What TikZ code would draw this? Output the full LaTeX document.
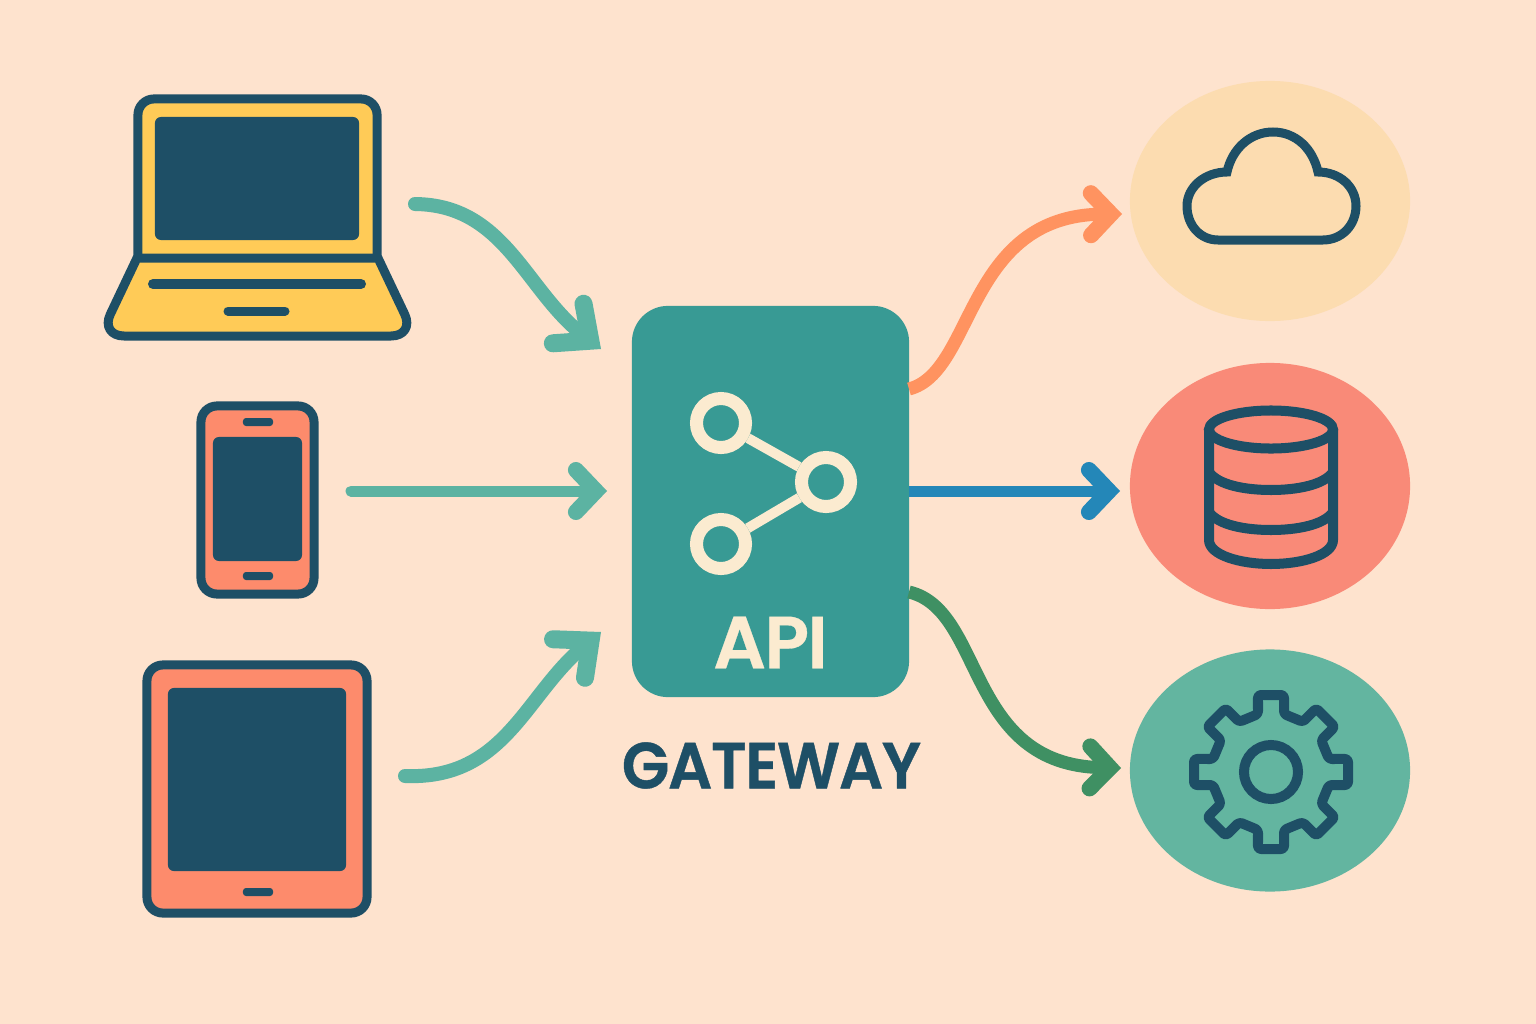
\documentclass[tikz,border=0pt]{standalone}
\usepackage{fontspec}
\setmainfont{Poppins}
\newfontfamily\apifont[LetterSpace=-2.5,FakeBold=0.4]{Poppins SemiBold}
\newfontfamily\gatefont[FakeStretch=0.95,LetterSpace=-2,FakeBold=0.6]{Poppins SemiBold}
\usetikzlibrary{arrows.meta,shapes.geometric}

\definecolor{peach}{HTML}{FEE3CE}
\definecolor{navy}{HTML}{1E4F66}
\definecolor{teal}{HTML}{389A94}
\definecolor{cream}{HTML}{FBEBD0}
\definecolor{sun}{HTML}{FFCB57}
\definecolor{coral}{HTML}{FD8B6C}
\definecolor{sand}{HTML}{FCDCB0}
\definecolor{rose}{HTML}{F98A78}
\definecolor{mint}{HTML}{63B5A0}
\definecolor{flowin}{HTML}{5CB3A2}
\definecolor{floworange}{HTML}{FF9360}
\definecolor{flowblue}{HTML}{2487B8}
\definecolor{flowgreen}{HTML}{3F9063}

\tikzset{
  barb/.tip={Straight Barb[line cap=round,line join=miter,line width=0.16cm,length=0.2cm,width=0.42cm]},
  bigbarb/.tip={Straight Barb[line cap=round,line join=miter,line width=0.18cm,length=0.28cm,width=0.5cm]}
}

\begin{document}
\begin{tikzpicture}[
x=0.01cm,y=-0.01cm,
device/.style={
  draw=navy,
  line width=0.09cm,
  rectangle,
  rounded corners=0.16cm,
  inner sep=0pt
},
screen/.style={
  fill=navy,
  rectangle,
  rounded corners=0.06cm,
  inner sep=0pt
},
target/.style={
  ellipse,
  inner sep=0pt,
  minimum width=2.8cm
},
icon/.style={
  draw=navy,
  line width=0.1cm,
  line join=round,
  line cap=round
},
flow/.style={
  line width=0.13cm,
  line join=round,
  -barb
},
share/.style={
  draw=cream,
  line width=0.13cm
}
]
\useasboundingbox (0,0) rectangle (1536,1024);
\fill[peach] (0,0) rectangle (1536,1024);

\node[device,fill=sun,minimum width=2.39cm,minimum height=1.81cm] (lid) at (257.5,189.5) {};
\node[screen,minimum width=2.04cm,minimum height=1.23cm] (lidscreen) at (257,178.5) {};
\draw[icon,line width=0.09cm,fill=sun] (137,258) -- (378,258) [rounded corners=0.24cm] -- (415,336) -- (100,336) [sharp corners] -- cycle;
\draw[icon] (153,284) -- (361,284);
\draw[icon,line width=0.09cm] (228,311) -- (285,311);

\node[device,fill=coral,minimum width=1.13cm,minimum height=1.88cm] (phone) at (257.5,500) {};
\node[screen,minimum width=0.89cm,minimum height=1.24cm] (phonescreen) at (257.5,499) {};
\node[screen,rounded corners=0.03cm,minimum width=0.3cm,minimum height=0.08cm] (speaker) at (258,422) {};
\node[screen,rounded corners=0.03cm,minimum width=0.3cm,minimum height=0.08cm] (homebar) at (258,576) {};

\node[device,fill=coral,minimum width=2.2cm,minimum height=2.48cm] (tablet) at (257,789) {};
\node[screen,minimum width=1.78cm,minimum height=1.83cm] (tabletscreen) at (257,779.5) {};
\node[screen,rounded corners=0.03cm,minimum width=0.3cm,minimum height=0.08cm] (tabletbar) at (258,892) {};

\node[fill=teal,rectangle,rounded corners=0.36cm,inner sep=0pt,minimum width=2.77cm,minimum height=3.91cm] (gateway) at (770.5,501.5) {};
\node[circle,share,inner sep=0pt,minimum size=0.49cm] (hubtop) at (721,423) {};
\node[circle,share,inner sep=0pt,minimum size=0.49cm] (hubright) at (826,482) {};
\node[circle,share,inner sep=0pt,minimum size=0.49cm] (hubbottom) at (721,544) {};
\draw[share,line width=0.1cm] (hubtop) -- (hubright);
\draw[share,line width=0.1cm] (hubbottom) -- (hubright);
\node[text=cream,font=\apifont\fontsize{21}{21}\selectfont] (api) at (770.5,642.5) {API};
\node[text=navy,font=\gatefont\fontsize{18.5}{18.5}\selectfont] (gwlabel) at (771.5,765.5) {GATEWAY};

\node[target,fill=sand,minimum height=2.4cm] (cloud) at (1270,201) {};
\node[target,fill=rose,minimum height=2.46cm] (store) at (1270,486) {};
\node[target,fill=mint,minimum height=2.42cm] (gear) at (1270,770.5) {};

\draw[icon,line width=0.09cm,line join=miter] (1218,240) .. controls (1200,240) and (1187,225) .. (1187,206)
  .. controls (1187,187) and (1205,172) .. (1227,172)
  .. controls (1232,149) and (1250,132) .. (1273,132)
  .. controls (1296,132) and (1313,149) .. (1318,172)
  .. controls (1340,172) and (1356,187) .. (1356,206)
  .. controls (1356,225) and (1342,240) .. (1323,240) -- cycle;

\draw[icon] (1209,430) -- (1209,540) .. controls (1209,555) and (1240,564) .. (1271,564)
  .. controls (1302,564) and (1333,555) .. (1333,540) -- (1333,430);
\node[draw=navy,line width=0.1cm,ellipse,inner sep=0pt,minimum width=1.24cm,minimum height=0.38cm] (storetop) at (1271,429.5) {};
\draw[icon] (1209,472) .. controls (1218,485) and (1245,490) .. (1271,490) .. controls (1297,490) and (1324,485) .. (1333,472);
\draw[icon] (1209,512) .. controls (1218,525) and (1245,530) .. (1271,530) .. controls (1297,530) and (1324,525) .. (1333,512);

\begin{scope}[shift={(1271,772)}]
\draw[icon,rounded corners=0.03cm] (-22.4,-54)
  \foreach \a in {0,45,...,315} {
    -- ({\a-102.65}:59.4) -- ({\a-99.6}:78.1) -- ({\a-80.4}:78.1) -- ({\a-77.35}:59.4)
  } -- cycle;
\node[circle,draw=navy,line width=0.1cm,inner sep=0pt,minimum size=0.54cm] (gearhub) at (0,0) {};
\end{scope}

\coordinate (lapout) at (415,204);
\coordinate (lapin) at (601,349);
\coordinate (phoneout) at (351,491);
\coordinate (phonein) at (607,491);
\coordinate (tabout) at (405,776);
\coordinate (tabin) at (601,632);
\coordinate (gwtop) at (909,389);
\coordinate (gwmid) at (909,491);
\coordinate (gwlow) at (909,592);
\coordinate (cloudin) at (1122,214);
\coordinate (storein) at (1120,491);
\coordinate (gearin) at (1121,768);

\draw[flow,flowin,-bigbarb,line cap=round,line width=0.14cm] (lapout) .. controls (505,205) and (525,290) .. (lapin);
\draw[flow,flowin,line width=0.11cm,line cap=round] (phoneout) -- (phonein);
\draw[flow,flowin,-bigbarb,line cap=round,line width=0.14cm] (tabout) .. controls (505,780) and (525,695) .. (tabin);
\draw[flow,floworange] (gwtop) .. controls (975,372) and (965,215) .. (cloudin);
\draw[flow,flowblue,line width=0.11cm] (gwmid) -- (storein);
\draw[flow,flowgreen] (gwlow) .. controls (985,610) and (965,765) .. (gearin);
\end{tikzpicture}
\end{document}
